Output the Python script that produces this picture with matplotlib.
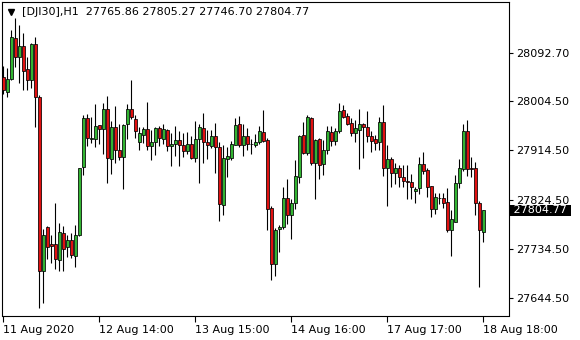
import numpy as np
import matplotlib.pyplot as plt

# hourly DJI30 candles
opens = [28048, 28022, 28045, 28120, 28085, 28105, 28063, 28043, 28109, 28012,
         27694, 27774, 27743, 27743, 27714, 27763, 27737, 27750, 27721, 27760,
         27884, 27973, 27936, 27936, 27960, 27953, 27990, 27898, 27957, 27916,
         27903, 27962, 27990, 27971, 27929, 27943, 27953, 27922, 27929, 27955,
         27936, 27952, 27922, 27926, 27933, 27925, 27914, 27927, 27901, 27935,
         27955, 27930, 27923, 27941, 27921, 27815, 27898, 27900, 27925, 27962,
         27925, 27940, 27926, 27924, 27929, 27948, 27933, 27809, 27706, 27770,
         27774, 27828, 27797, 27818, 27866, 27942, 27909, 27973, 27892, 27935,
         27890, 27916, 27948, 27932, 27949, 27988, 27977, 27964, 27946, 27952,
         27962, 27958, 27941, 27935, 27929, 27967, 27882, 27898, 27874, 27883,
         27865, 27858, 27856, 27840, 27845, 27889, 27878, 27849, 27807, 27827,
         27827, 27820, 27769, 27784, 27854, 27881, 27950, 27883, 27883, 27818, 27765.86]
highs = [28069, 28065, 28135, 28156, 28144, 28130, 28085, 28111, 28121, 28016,
         27771, 27776, 27760, 27818, 27781, 27777, 27760, 27763, 27778, 27882,
         27980, 27981, 27975, 27999, 27961, 28002, 28013, 27969, 27996, 27963,
         27963, 27999, 28044, 27979, 27957, 27958, 28003, 27952, 27958, 27959,
         27963, 27953, 27946, 27959, 27950, 27946, 27948, 27941, 27969, 27963,
         27983, 27952, 27952, 27965, 27930, 27924, 27920, 27932, 27973, 27977,
         27963, 27955, 27935, 27944, 27959, 27988, 27938, 27812, 27772, 27778,
         27848, 27863, 27825, 27897, 27943, 27966, 27980, 27976, 27936, 27937,
         27933, 27959, 27959, 27955, 28001, 27998, 27982, 27974, 27970, 27991,
         27965, 27986, 27949, 27943, 27975, 27997, 27924, 27903, 27891, 27888,
         27887, 27887, 27871, 27848, 27902, 27911, 27882, 27849, 27837, 27837,
         27837, 27845, 27805, 27869, 27898, 27963, 27970, 27903, 27893, 27822, 27805.27]
lows = [28018, 28012, 28043, 28067, 28038, 28025, 28025, 28028, 27958, 27626,
        27636, 27715, 27708, 27697, 27694, 27694, 27720, 27717, 27702, 27758,
        27869, 27922, 27928, 27920, 27927, 27908, 27855, 27871, 27892, 27897,
        27844, 27936, 27971, 27938, 27915, 27928, 27916, 27896, 27906, 27922,
        27927, 27914, 27885, 27904, 27886, 27903, 27908, 27898, 27894, 27855,
        27892, 27899, 27918, 27874, 27786, 27796, 27865, 27896, 27924, 27920,
        27904, 27915, 27908, 27920, 27927, 27930, 27768, 27677, 27685, 27729,
        27770, 27780, 27753, 27807, 27854, 27908, 27906, 27888, 27825, 27863,
        27870, 27908, 27922, 27924, 27947, 27973, 27960, 27941, 27930, 27880,
        27900, 27930, 27912, 27915, 27915, 27868, 27813, 27847, 27853, 27848,
        27848, 27826, 27825, 27818, 27835, 27871, 27830, 27793, 27799, 27816,
        27810, 27766, 27721, 27784, 27846, 27877, 27868, 27866, 27797, 27665, 27746.70]
closes = [28024, 28045, 28121, 28085, 28105, 28060, 28043, 28109, 28012, 27693,
          27759, 27738, 27740, 27715, 27766, 27735, 27750, 27723, 27760, 27882,
          27973, 27938, 27938, 27959, 27953, 27991, 27900, 27957, 27916, 27903,
          27961, 27990, 27975, 27949, 27946, 27953, 27922, 27930, 27955, 27938,
          27953, 27922, 27927, 27933, 27925, 27914, 27927, 27900, 27935, 27957,
          27930, 27924, 27941, 27921, 27816, 27900, 27905, 27927, 27960, 27924,
          27940, 27927, 27926, 27930, 27949, 27932, 27808, 27706, 27769, 27775,
          27827, 27796, 27818, 27868, 27941, 27909, 27975, 27892, 27933, 27887,
          27915, 27949, 27932, 27949, 27986, 27975, 27963, 27946, 27955, 27962,
          27958, 27941, 27932, 27928, 27966, 27882, 27898, 27874, 27883, 27865,
          27859, 27856, 27847, 27844, 27889, 27877, 27848, 27808, 27829, 27827,
          27818, 27769, 27789, 27854, 27882, 27950, 27880, 27880, 27818, 27769, 27804.77]

# one label every 24 bars
time_ticks = [0, 24, 48, 72, 96, 120]
time_labels = ['11 Aug 2020', '12 Aug 14:00', '13 Aug 15:00',
               '14 Aug 16:00', '17 Aug 17:00', '18 Aug 18:00']
price_ticks = [28092.70, 28004.50, 27914.50, 27824.50, 27734.50, 27644.50]
header = '[DJI30],H1  27765.86 27805.27 27746.70 27804.77'
last_price = 27804.77

o = np.array(opens)
h = np.array(highs)
l = np.array(lows)
c = np.array(closes)
x = np.arange(len(o))
up = c >= o

fig = plt.figure(figsize=(5.8, 3.4), dpi=100)
ax = fig.add_axes([2 / 580, 24.5 / 340, 507 / 580, 313.5 / 340])

# wicks then bodies
ax.vlines(x, l, h, color='black', linewidth=0.8, zorder=2)
ax.bar(x, c - o, bottom=o, width=0.72,
       color=np.where(up, '#32b432', '#e01010'),
       edgecolor='black', linewidth=0.55, zorder=3)

ax.set_xlim(-0.325, 126.4)
ax.set_ylim(27612.5, 28185.8)

for s in ax.spines.values():
    s.set_linewidth(0.8)

ax.yaxis.tick_right()
ax.set_yticks(price_ticks)
ax.set_yticklabels(['%.2f' % p for p in price_ticks])
ax.tick_params(axis='y', length=3, width=0.8, pad=2, labelsize=8)

ax.set_xticks(time_ticks)
ax.set_xticklabels(time_labels)
ax.tick_params(axis='x', length=4, width=0.8, pad=2.5, labelsize=8)
for lab in ax.get_xticklabels():
    lab.set_horizontalalignment('left')

# header with the little triangle
ax.plot(0.0175, 0.968, marker='v', color='black', markersize=4.5,
        transform=ax.transAxes, clip_on=False)
fig.text(22 / 580, 1 - 12 / 340, header, fontsize=8, va='center', ha='left')

# current price tag
ax.annotate(' %.2f ' % last_price, xy=(1, last_price),
            xycoords=('axes fraction', 'data'), xytext=(1, 0),
            textcoords='offset points', ha='left', va='center',
            fontsize=8, color='white', zorder=10, annotation_clip=False,
            bbox=dict(boxstyle='square,pad=0.05', fc='black', ec='none'))

plt.savefig('out.png', dpi=100)
